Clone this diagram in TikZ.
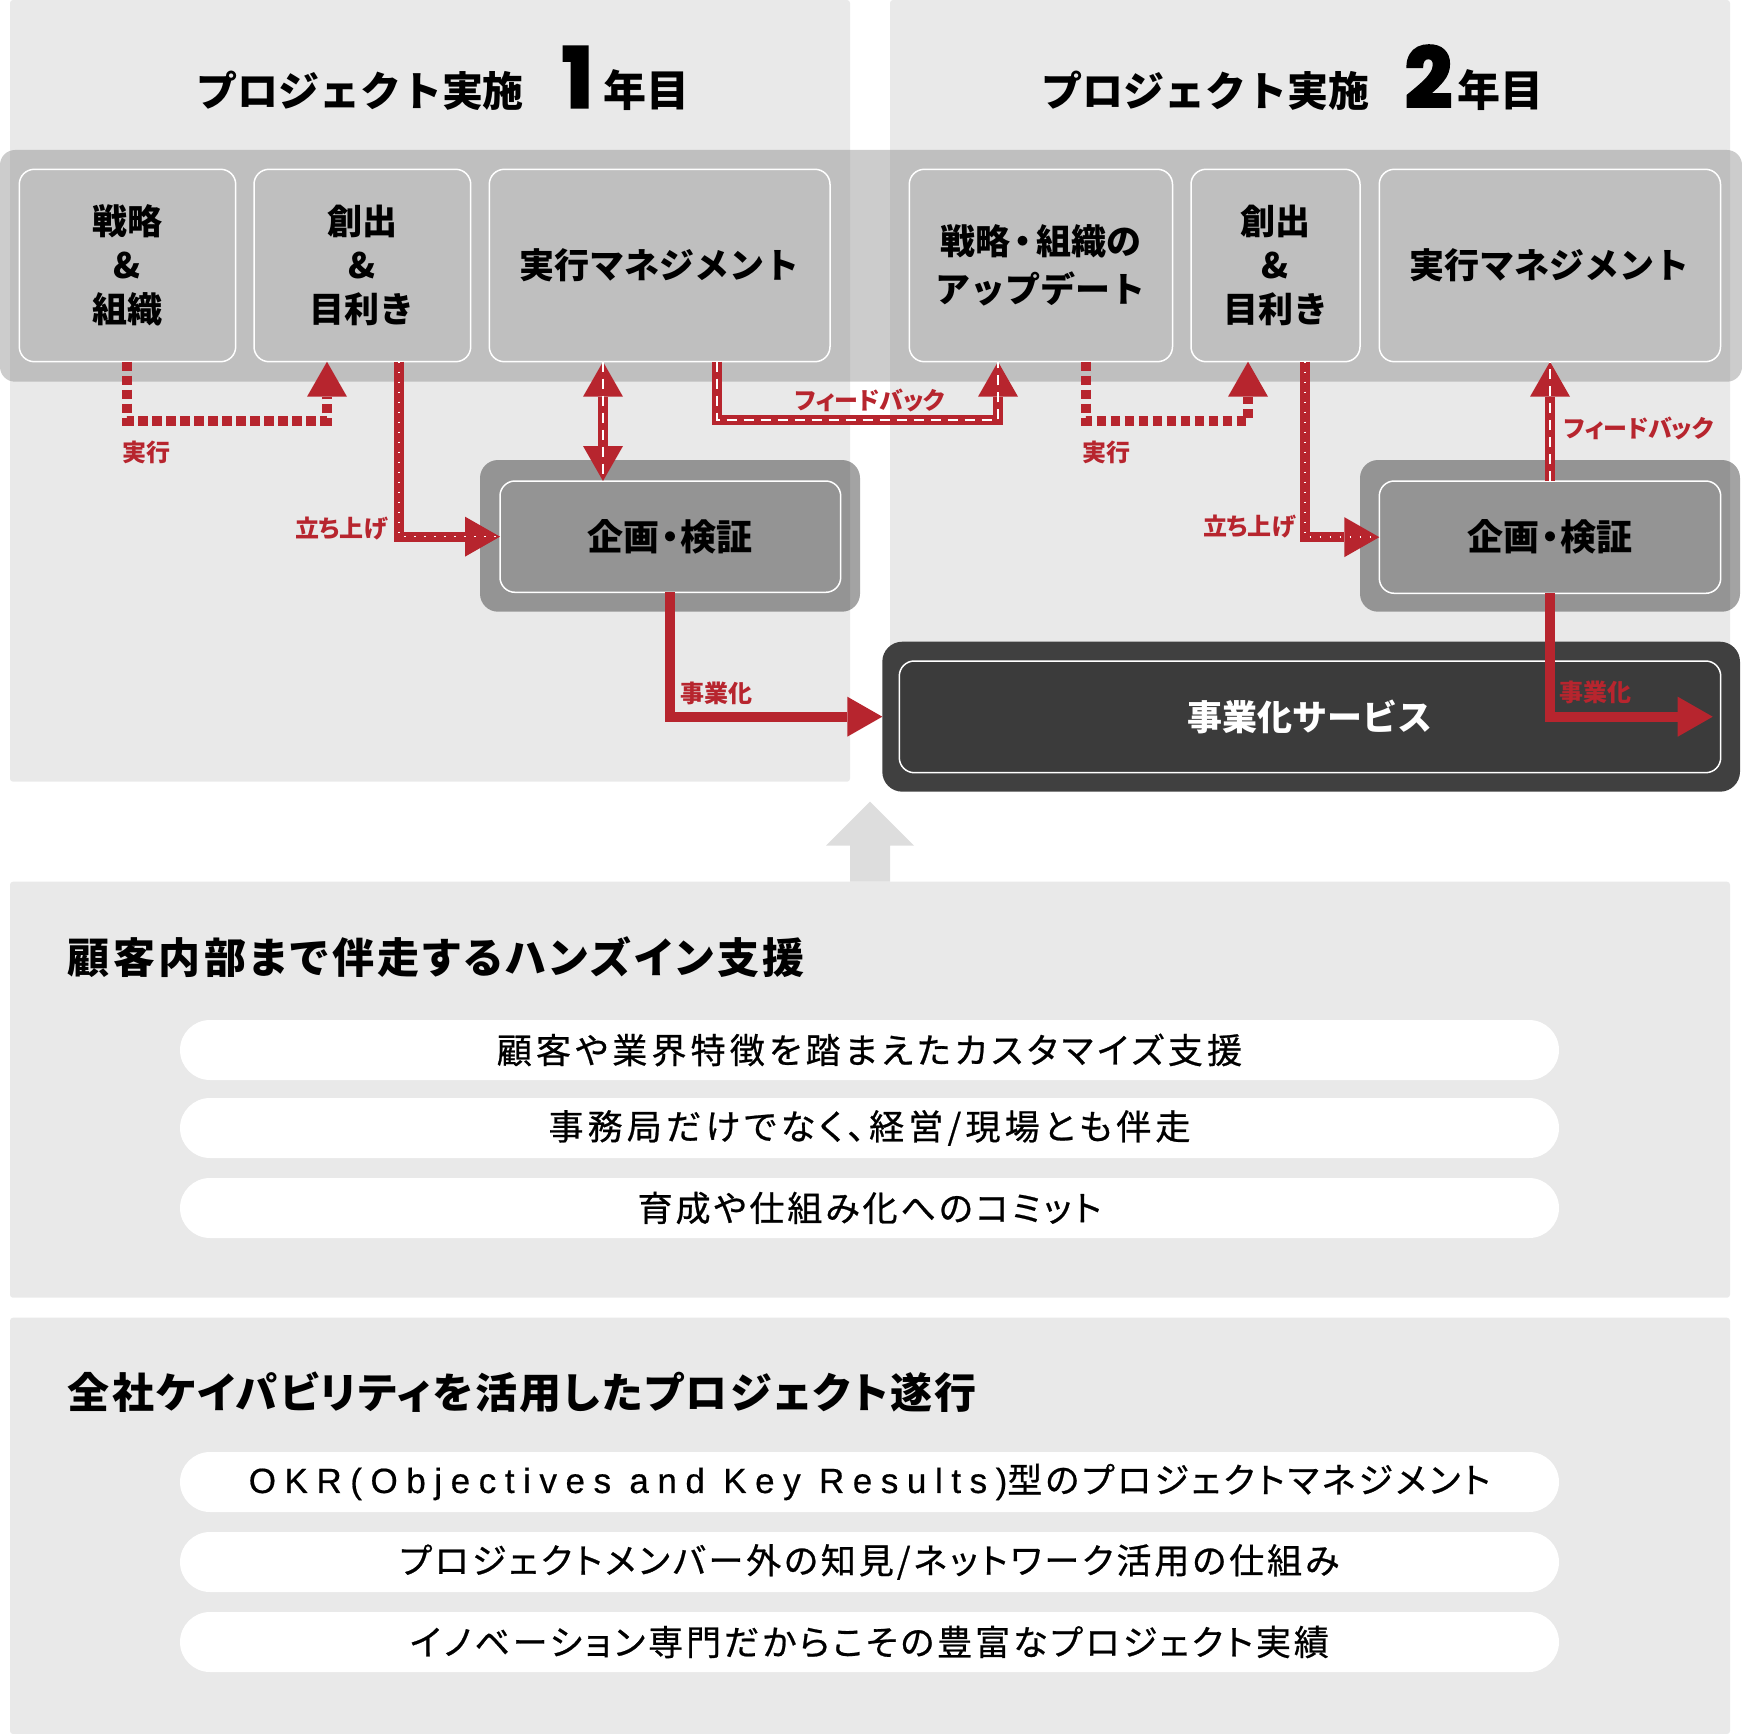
\documentclass[tikz,border=0pt]{standalone}
\usepackage{fontspec}
\setmainfont{Noto Sans CJK JP}
\newfontfamily\jppalt{Noto Sans CJK JP}[RawFeature=+palt]
\newfontfamily\pillfont{Noto Sans CJK JP}[RawFeature=+palt, LetterSpace=12, FakeBold=0.7]
\newfontfamily\pillfontb{Noto Sans CJK JP}[RawFeature=+palt, LetterSpace=8.5, FakeBold=0.7]
\newfontfamily\okrfont{Liberation Sans}[LetterSpace=24.5, FakeBold=0.5]
\newfontfamily\secfont{Noto Sans CJK JP}[RawFeature=+palt, LetterSpace=8]
\newfontfamily\secfontb{Noto Sans CJK JP}[RawFeature=+palt, LetterSpace=5]
\newfontfamily\numfont{Poppins}[BoldFeatures={FakeBold=4}]
\usetikzlibrary{arrows.meta,calc}
\definecolor{myred}{HTML}{B7252E}
\definecolor{panelbg}{HTML}{E9E9E9}
\definecolor{upgray}{HTML}{DDDDDD}
\definecolor{darkout}{HTML}{404040}
\definecolor{darkin}{HTML}{3B3B3B}
\newcommand{\mytitlefont}{\bfseries\fontsize{20.5pt}{24pt}\selectfont}
\newcommand{\myyearfont}{\bfseries\fontsize{21.5pt}{24pt}\selectfont}
\newcommand{\mynumfont}{\numfont\bfseries\fontsize{41pt}{42pt}\selectfont}
\newcommand{\pdot}[1]{\hspace{#1}{\jppalt\bfseries ・}\hspace{#1}}
\tikzset{
  sz/.style 2 args={minimum width=#1*0.5pt, minimum height=#2*0.5pt},
  base/.style={inner sep=0pt, outer sep=0pt},
  panel/.style={base, fill=panelbg, rounded corners=1.5pt},
  bar/.style={base, fill=black!50, fill opacity=0.4, rounded corners=7.5pt},
  box/.style={base, draw=white, line width=0.75pt, rounded corners=7.5pt, align=center,
    font=\bfseries\fontsize{17.5pt}{22pt}\selectfont},
  kout/.style={base, fill=black, fill opacity=0.36, rounded corners=9pt},
  svcout/.style={base, fill=darkout, rounded corners=10pt},
  svcin/.style={box, fill=darkin, text=white},
  pill/.style={base, fill=white, rounded corners=15pt, font=\pillfont\fontsize{17.5pt}{21pt}\selectfont},
  pillb/.style={pill, font=\pillfontb\fontsize{17.5pt}{21pt}\selectfont},
  sectitle/.style={base, font=\secfont\bfseries\fontsize{21pt}{25pt}\selectfont},
  sectitleb/.style={base, font=\secfontb\bfseries\fontsize{21pt}{25pt}\selectfont},
  lab/.style={base, text=myred, font=\jppalt\bfseries\fontsize{12pt}{14pt}\selectfont},
  redl/.style={draw=myred, line width=5pt, line join=miter},
  rtip/.style={-{Triangle[width=20pt,length=17.5pt,line width=0pt]}},
  dtip/.style={{Triangle[width=20pt,length=17.5pt,line width=0pt]}-{Triangle[width=20pt,length=17.5pt,line width=0pt]}},
  jikko/.style={redl, dash pattern=on 4.65pt off 2.35pt},
  wdash/.style={draw=white, line width=0.7pt, dash pattern=on 5pt off 3.5pt},
  wdot/.style={draw=white, line width=0.75pt, dash pattern=on 0.75pt off 4.25pt},
}
\begin{document}
\begin{tikzpicture}[x=0.5pt,y=-0.5pt]
\useasboundingbox (0,0) rectangle (1742,1734);
% year panels
\node[panel, sz={840}{781.7}] (p1) at (430,390.85) {};
\node[panel, sz={840}{781.7}] (p2) at (1310,390.85) {};
% titles
\node[base, anchor=base west] (t1) at (196,107) {\mytitlefont プロジェクト実施\hspace{19pt}{\mynumfont 1}\hspace{5.5pt}{\myyearfont 年目}};
\node[base, anchor=base west] (t2) at (1041,107) {\mytitlefont プロジェクト実施\hspace{18pt}{\mynumfont 2}\hspace{3pt}{\myyearfont 年目}};
% bar
\node[bar, sz={1742}{231.7}] (bar) at (871,265.85) {};
% boxes year 1
\node[box, sz={216.4}{192.4}] (b1) at (127.5,265.5) {戦略\\\&\\組織};
\node[box, sz={216.7}{192.4}] (b2) at (362.35,265.5) {創出\\\&\\目利き};
\node[box, sz={340.7}{192.4}] (b3) at (659.65,265.5) {実行マネジメント};
% boxes year 2
\node[box, sz={263.2}{192.4}, font=\bfseries\fontsize{17.5pt}{24pt}\selectfont] (r1) at (1040.9,265.5) {戦略\pdot{2pt}組織の\\アップデート};
\node[box, sz={169}{192.4}] (r2) at (1275.5,265.5) {創出\\\&\\目利き};
\node[box, sz={341.2}{192.4}] (r3) at (1549.9,265.5) {実行マネジメント};
% planning boxes
\node[kout, sz={380}{151.7}] (k1out) at (670,535.85) {};
\node[box, sz={340.7}{111.3}, font=\bfseries\fontsize{18pt}{22pt}\selectfont] (k1in) at (670.35,536.65) {企画\pdot{0.8pt}検証};
\node[kout, sz={380}{151.7}] (k2out) at (1550,535.85) {};
\node[box, sz={341.4}{112.3}, font=\bfseries\fontsize{18pt}{22pt}\selectfont] (k2in) at (1550,537.15) {企画\pdot{0.8pt}検証};
% service
\node[svcout, sz={857.7}{150}] (svcout) at (1311.15,716.7) {};
\node[svcin, sz={821.4}{111.7}] (svc) at (1310,716.85) {事業化サービス};
% connector coordinates
\coordinate (jL1) at (127,420.5);
\coordinate (jL2) at (327,420.5);
\coordinate (tL) at (399,0);
\coordinate (dX) at (603,0);
\coordinate (fL1) at (717,420);
\coordinate (fL2) at (998,420);
\coordinate (jR1) at (1085.5,420.5);
\coordinate (jR2) at (1248,420.5);
\coordinate (tR) at (1305,0);
\coordinate (sEnd) at (1712.7,716.7);
% 実行 (year 1)
\draw[jikko, rtip] (b1.south -| jL1) -- (jL1) -- (jL2) -- (b2.south -| jL2);
% 立ち上げ (year 1)
\draw[redl, rtip] (b2.south -| tL) |- (k1in.west);
\draw[wdot] (b2.south -| tL) |- (k1in.west);
% double arrow
\draw[redl, dtip] (b3.south -| dX) -- (k1in.north -| dX);
\draw[wdash] (b3.south -| dX) -- (k1in.north -| dX);
% feedback year1 -> year2
\draw[redl, rtip] (b3.south -| fL1) -- (fL1) -- (fL2) -- (r1.south -| fL2);
\draw[wdash] (b3.south -| fL1) -- (fL1) -- (fL2) -- (r1.south -| fL2);
% 事業化 (year 1)
\draw[redl, rtip] (k1in.south) |- (svcout.west);
% 実行 (year 2)
\draw[jikko, rtip] (r1.south -| jR1) -- (jR1) -- (jR2) -- (r2.south -| jR2);
% 立ち上げ (year 2)
\draw[redl, rtip] (r2.south -| tR) |- (k2in.west);
\draw[wdot] (r2.south -| tR) |- (k2in.west);
% feedback year 2
\draw[redl, rtip] (k2in.north) -- (k2in.north |- r3.south);
\draw[wdash] (k2in.north) -- (k2in.north |- r3.south);
% 事業化 (year 2)
\draw[redl, rtip] (k2in.south) |- (sEnd);
% labels
\node[lab, anchor=west] (lj1) at (122,452) {実行};
\node[lab, anchor=west] (lj2) at (1082,452) {実行};
\node[lab] (lf1) at (870,400) {フィードバック};
\node[lab, anchor=west] (lf2) at (1564,428.5) {フィードバック};
\node[lab, anchor=east] (lt1) at (388,529) {立ち上げ};
\node[lab, anchor=east] (lt2) at (1296,527) {立ち上げ};
\node[lab, anchor=west] (ls1) at (680,693) {事業化};
\node[lab, anchor=west] (ls2) at (1559,692) {事業化};
% lower sections
\node[panel, sz={1720}{416}] (sec1) at (870,1089.7) {};
\node[panel, sz={1720}{416.3}] (sec2) at (870,1525.85) {};
\fill[upgray] ($(sec1.north)+(-20,0)$) -- ++(0,-36) -- ++(-24,0) -- ($(sec1.north)+(0,-80)$) -- ($(sec1.north)+(44,-36)$) -- ++(-24,0) -- ($(sec1.north)+(20,0)$) -- cycle;
\node[sectitle, anchor=west] (st1) at (68,956.7) {顧客内部まで伴走するハンズイン支援};
\node[pill, sz={1379}{60}] (q1) at (869.5,1050) {顧客や業界特徴を踏まえたカスタマイズ支援};
\node[pill, sz={1379}{60}] (q2) at (869.5,1128) {事務局だけでなく、経営/現場とも伴走};
\node[pillb, sz={1379}{60}] (q3) at (869.5,1208) {育成や仕組み化へのコミット};
\node[sectitleb, anchor=west] (st2) at (68,1392.7) {全社ケイパビリティを活用したプロジェクト遂行};
\node[pillb, sz={1379}{60}] (s1) at (869.5,1482) {{\okrfont OKR(Objectives and Key Results)}型のプロジェクトマネジメント};
\node[pillb, sz={1379}{60}] (s2) at (869.5,1562) {プロジェクトメンバー外の知見/ネットワーク活用の仕組み};
\node[pillb, sz={1379}{60}] (s3) at (869.5,1642) {イノベーション専門だからこその豊富なプロジェクト実績};
\end{tikzpicture}
\end{document}
